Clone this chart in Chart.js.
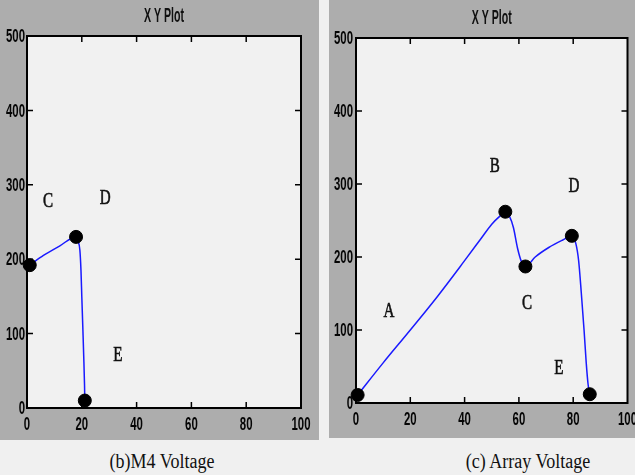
<!DOCTYPE html>
<html>
<head>
<meta charset="utf-8">
<script src="https://cdn.jsdelivr.net/npm/chart.js@4.4.1/dist/chart.umd.min.js"></script>
<style>
  body { margin: 0; background: #f0f0f0; width: 635px; height: 475px; position: relative; overflow: hidden; }
  canvas { position: absolute; top: 0; }
  .cap {
    position: absolute; top: 450px; line-height: 22px; white-space: nowrap; color: #111;
    font: 20px "Liberation Serif", "Times New Roman", serif;
    transform: translateX(-50%) scaleX(0.9);
  }
</style>
</head>
<body>
<canvas id="m4" width="319" height="440" style="left:0px"></canvas>
<canvas id="arr" width="306" height="438" style="left:329px"></canvas>
<div class="cap" style="left:162px">(b)M4 Voltage</div>
<div class="cap" style="left:528px">(c) Array Voltage</div>
<script>
// M4 voltage trace
const m4X = [1, 6, 12, 17.9, 18.6, 19.3, 19.7, 20.0, 20.4, 20.7, 21.0, 21.1];
const m4Y = [192, 205, 218, 230, 225, 212, 185, 150, 105, 70, 30, 10];
const m4MarkX = [1, 17.9, 21.1];
const m4MarkY = [192, 230, 10];
const m4Letters = ['C', 'D', 'E'];
const m4LetterX = [7.7, 28.5, 33.2];
const m4LetterY = [277, 281, 70];

// Array voltage trace
const arrX = [0.6, 10, 20, 30, 40, 46, 50, 53, 55, 56.5, 58, 59.5, 61, 62.4, 66, 71, 76, 79.5, 81, 82, 83, 84, 84.8, 85.5, 86.1];
const arrY = [11, 55, 100, 146, 195, 225, 245, 256, 262, 256, 240, 212, 193, 187, 200, 213, 223, 229, 218, 195, 150, 100, 55, 25, 12];
const arrMarkX = [0.6, 55, 62.4, 79.5, 86.1];
const arrMarkY = [11, 262, 187, 229, 12];
const arrLetters = ['A', 'B', 'C', 'D', 'E'];
const arrLetterX = [12.1, 51.1, 63, 80.3, 74.7];
const arrLetterY = [125, 324, 137, 296, 47.5];

const xTicks = [0, 20, 40, 60, 80, 100];
const yTicks = [0, 100, 200, 300, 400, 500];

// squeezed text, the source image is horizontally compressed
function squeezed(ctx, text, x, y, font, sx, align, heavy) {
  ctx.save();
  ctx.translate(x, y);
  ctx.scale(sx, 1);
  ctx.font = font;
  ctx.textAlign = align;
  ctx.textBaseline = 'middle';
  ctx.fillText(text, 0, 0);
  if (heavy) {
    ctx.strokeStyle = ctx.fillStyle;
    ctx.lineWidth = heavy;
    ctx.strokeText(text, 0, 0);
  }
  ctx.restore();
}

const tickFont = 'bold 19px "Liberation Sans", Arial, sans-serif';

// gray panel, light plot area, box with inward ticks, tick labels, title and point letters
const xyFrame = {
  id: 'xyFrame',
  beforeDraw(chart) {
    const { ctx, chartArea: a } = chart;
    ctx.save();
    ctx.fillStyle = '#adadad';
    ctx.fillRect(0, 0, chart.width, chart.height);
    ctx.fillStyle = '#f1f1f1';
    ctx.fillRect(a.left, a.top, a.right - a.left, a.bottom - a.top);
    ctx.restore();
  },
  beforeDatasetsDraw(chart, args, opts) {
    const { ctx, chartArea: a, scales } = chart;
    ctx.save();
    ctx.strokeStyle = '#000';
    ctx.lineWidth = 1.5;
    ctx.beginPath();
    scales.x.ticks.forEach(t => {
      if (t.value === 0 || t.value === 100) return;
      const px = scales.x.getPixelForValue(t.value);
      ctx.moveTo(px, a.bottom); ctx.lineTo(px, a.bottom - 6);
      ctx.moveTo(px, a.top); ctx.lineTo(px, a.top + 6);
    });
    scales.y.ticks.forEach(t => {
      if (t.value === 0 || t.value === 500) return;
      const py = scales.y.getPixelForValue(t.value);
      ctx.moveTo(a.left, py); ctx.lineTo(a.left + 6, py);
      ctx.moveTo(a.right, py); ctx.lineTo(a.right - 6, py);
    });
    ctx.stroke();
    ctx.lineWidth = 2;
    ctx.strokeRect(a.left, a.top, a.right - a.left, a.bottom - a.top);

    // tick labels
    ctx.fillStyle = '#050505';
    scales.x.ticks.forEach(t => {
      squeezed(ctx, scales.x.getLabelForValue(t.value), scales.x.getPixelForValue(t.value),
        a.bottom + 17, tickFont, 0.6, 'center');
    });
    scales.y.ticks.forEach(t => {
      squeezed(ctx, scales.y.getLabelForValue(t.value), a.left - opts.labelGap,
        scales.y.getPixelForValue(t.value) + 1, tickFont, 0.6, 'right');
    });
    ctx.restore();
  },
  afterDraw(chart, args, opts) {
    const { ctx, chartArea: a, scales } = chart;
    ctx.save();
    ctx.fillStyle = '#101010';
    squeezed(ctx, 'X Y Plot', (a.left + a.right) / 2, a.top - 20,
      'bold 20px "Liberation Sans", Arial, sans-serif', 0.53, 'center');
    opts.letters.forEach((t, i) => {
      squeezed(ctx, t, scales.x.getPixelForValue(opts.lx[i]), scales.y.getPixelForValue(opts.ly[i]),
        '21px "Liberation Serif", "Times New Roman", serif', 0.72, 'center', 0.6);
    });
    ctx.restore();
  }
};

function makePlot(id, xs, ys, mx, my, letters, lx, ly, pad) {
  return new Chart(document.getElementById(id), {
    type: 'scatter',
    data: {
      datasets: [
        {
          data: mx.map((x, i) => ({ x, y: my[i] })),
          pointRadius: 6.5,
          pointBackgroundColor: '#000',
          pointBorderColor: '#000',
          showLine: false,
          clip: false,
        },
        {
          data: xs.map((x, i) => ({ x, y: ys[i] })),
          showLine: true,
          borderColor: '#1a1aff',
          borderWidth: 1.5,
          pointRadius: 0,
          cubicInterpolationMode: 'monotone',
          clip: false,
        },
      ],
    },
    options: {
      responsive: false,
      animation: false,
      events: [],
      layout: { padding: { top: pad.top, right: pad.right, left: 0, bottom: 0 } },
      plugins: {
        legend: { display: false },
        tooltip: { enabled: false },
        xyFrame: { letters, lx, ly, labelGap: pad.labelGap },
      },
      scales: {
        x: {
          type: 'linear', min: 0, max: 100,
          grid: { display: false, drawTicks: false },
          border: { display: false },
          afterBuildTicks: s => { s.ticks = xTicks.map(v => ({ value: v })); },
          ticks: { display: false },
          afterFit: s => { s.height = pad.bottom; s.paddingLeft = 0; s.paddingRight = 0; },
        },
        y: {
          type: 'linear', min: 0, max: 500,
          grid: { display: false, drawTicks: false },
          border: { display: false },
          afterBuildTicks: s => { s.ticks = yTicks.map(v => ({ value: v })); },
          ticks: { display: false },
          afterFit: s => { s.width = pad.left; s.paddingTop = 0; s.paddingBottom = 0; },
        },
      },
    },
    plugins: [xyFrame],
  });
}

makePlot('m4', m4X, m4Y, m4MarkX, m4MarkY, m4Letters, m4LetterX, m4LetterY,
  { left: 27, top: 36, right: 18, bottom: 32, labelGap: 2 });
makePlot('arr', arrX, arrY, arrMarkX, arrMarkY, arrLetters, arrLetterX, arrLetterY,
  { left: 27, top: 38, right: 7, bottom: 35, labelGap: 3 });
</script>
</body>
</html>
